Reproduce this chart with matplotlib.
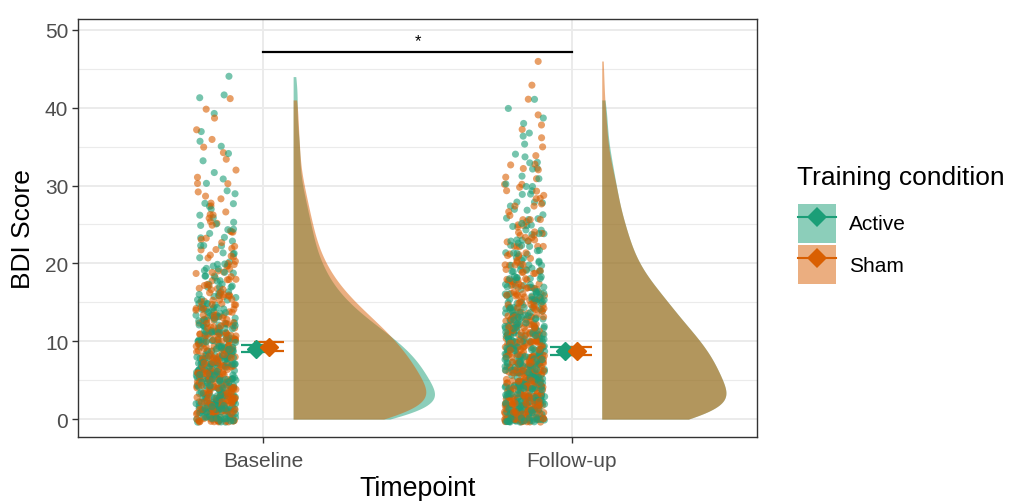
import numpy as np
import matplotlib
matplotlib.use("Agg")
import matplotlib.pyplot as plt
from matplotlib.patches import Patch
from matplotlib.lines import Line2D

plt.rcParams['font.family'] = ['Liberation Sans', 'DejaVu Sans']

# --- data: counts of participants per BDI score (0..46) ---
timepoints = ["Baseline", "Follow-up"]
conditions = ["Active", "Sham"]
colours = {"Active": "#1B9E77", "Sham": "#D95F02"}

scores = np.arange(47)

baseline_active = [25, 25, 24, 21, 20, 20, 20, 19, 18, 17,
                   16, 14, 12, 11, 9, 8, 7, 6, 5, 5,
                   4, 4, 3, 3, 3, 3, 2, 2, 2, 2,
                   1, 1, 1, 1, 1, 1, 1, 1, 0, 1,
                   0, 1, 1, 0, 1, 0, 0]
baseline_sham = [24, 24, 23, 20, 19, 19, 19, 18, 17, 16,
                 16, 14, 13, 12, 10, 9, 8, 7, 6, 5,
                 5, 4, 4, 3, 3, 3, 3, 2, 2, 2,
                 2, 1, 1, 1, 1, 1, 1, 1, 0, 1,
                 1, 1, 0, 0, 0, 0, 0]
followup_active = [30, 27, 25, 22, 22, 22, 21, 21, 20, 19,
                   18, 17, 15, 14, 13, 12, 11, 10, 8, 7,
                   7, 6, 5, 5, 5, 4, 4, 3, 3, 3,
                   3, 2, 2, 2, 2, 1, 1, 1, 1, 1,
                   1, 1, 0, 0, 0, 0, 0]
followup_sham = [30, 27, 25, 22, 22, 22, 21, 21, 20, 19,
                 18, 17, 15, 14, 13, 12, 11, 10, 8, 7,
                 7, 6, 5, 5, 5, 4, 4, 3, 3, 3,
                 3, 2, 2, 2, 1, 1, 1, 1, 1, 1,
                 0, 1, 0, 1, 0, 0, 1]

counts = {("Baseline", "Active"): baseline_active,
          ("Baseline", "Sham"): baseline_sham,
          ("Follow-up", "Active"): followup_active,
          ("Follow-up", "Sham"): followup_sham}

# group means and standard errors
mean_active = [9.06, 8.73]
mean_sham = [9.32, 8.75]
se_active = [0.49, 0.47]
se_sham = [0.54, 0.55]

sig_label = "*"


def nrd0(x):
    """bandwidth like R's bw.nrd0"""
    sd = np.std(x, ddof=1)
    iqr = np.subtract(*np.percentile(x, [75, 25]))
    lo = min(sd, iqr / 1.34)
    return 0.9 * lo * len(x) ** (-0.2)


def kde(x, grid):
    bw = nrd0(x)
    z = (grid[:, None] - x[None, :]) / bw
    return np.exp(-0.5 * z ** 2).sum(axis=1) / (len(x) * bw * np.sqrt(2 * np.pi))


def hash01(i, seed):
    # deterministic scatter for jitter positions
    v = np.sin(i * 12.9898 + seed * 78.233) * 43758.5453
    return v - np.floor(v)


fig = plt.figure(figsize=(10.12, 5.02), dpi=100)
ax = fig.add_axes([0.0771, 0.1275, 0.6709, 0.8327])

# densities first so the global max can scale them (scale = "area")
dens = {}
for key, c in counts.items():
    vals = np.repeat(scores, c).astype(float)
    grid = np.linspace(vals.min(), vals.max(), 512)
    dens[key] = (grid, kde(vals, grid))
dmax = max(d.max() for g, d in dens.values())
max_width = 0.458

for t_i, tp in enumerate(timepoints):
    x0 = t_i + 1
    # flat violins (Active first, Sham on top)
    for cond in conditions:
        grid, d = dens[(tp, cond)]
        left = x0 + 0.097
        ax.fill_betweenx(grid, left, left + d / dmax * max_width,
                         color=colours[cond], alpha=0.5, lw=0, zorder=2)

    # jittered raw points, both conditions mixed in draw order
    xs, ys, cs = [], [], []
    for c_i, cond in enumerate(conditions):
        vals = np.repeat(scores, counts[(tp, cond)]).astype(float)
        idx = np.arange(len(vals))
        seed = t_i * 2 + c_i + 1
        jx = (hash01(idx, seed) - 0.5) * 0.13
        jy = (hash01(idx, seed + 10) - 0.5) * 0.8
        xs.append(x0 - 0.153 + jx)
        ys.append(vals + jy)
        cs += [colours[cond]] * len(vals)
    xs = np.concatenate(xs)
    ys = np.concatenate(ys)
    cs = np.array(cs)
    order = np.argsort(hash01(np.arange(len(xs)), 30 + t_i))
    ax.scatter(xs[order], ys[order], s=26, c=cs[order], alpha=0.6,
               linewidths=0, zorder=3)

# means with standard error bars
# (no mew here: errorbar would apply it to the caps too)
xpos = np.arange(1, len(timepoints) + 1)
for cond, m, se, dx in [("Active", mean_active, se_active, -0.022),
                        ("Sham", mean_sham, se_sham, 0.018)]:
    ax.errorbar(xpos + dx, m, yerr=se, fmt='D', color=colours[cond],
                ms=9.6, elinewidth=1.5, capsize=11, capthick=1.6,
                zorder=4)

# significance bar
ax.plot([1, 2], [47.1, 47.1], color='black', lw=1.6, zorder=4)
ax.text(1.5, 47.6, sig_label, ha='center', va='bottom', fontsize=12)

ax.set_xlim(0.4, 2.6)
ax.set_ylim(-2.3, 51.4)
ax.set_xticks(xpos)
ax.set_xticklabels(timepoints)
ax.set_yticks(np.arange(0, 51, 10))
ax.set_yticks(np.arange(5, 51, 10), minor=True)
ax.grid(True, which='major', color='#EBEBEB', lw=1.4, zorder=0)
ax.grid(True, which='minor', axis='y', color='#EBEBEB', lw=0.8, zorder=0)
ax.set_axisbelow(True)
ax.tick_params(which='major', length=4, width=1, color='#333333',
               labelsize=15, labelcolor='#4D4D4D')
ax.tick_params(axis='x', pad=6)
ax.tick_params(axis='y', pad=3)
ax.tick_params(which='minor', length=0)
for sp in ax.spines.values():
    sp.set_color('#333333')
    sp.set_linewidth(1)

ax.set_xlabel("Timepoint", fontsize=19.3, labelpad=3.5)
ax.set_ylabel("BDI Score", fontsize=19, labelpad=7)

# legend: title as plain text, keys below it
fig.text(797 / 1012, 1 - 178 / 502, "Training condition", fontsize=19,
         ha='left', va='center')
handles = []
for cond in conditions:
    handles.append((Patch(facecolor=colours[cond], alpha=0.5, lw=0),
                    Line2D([], [], color=colours[cond], lw=1.5, marker='D',
                           ms=10.5, mew=0)))
leg = fig.legend(handles, conditions, loc='upper left',
                 bbox_to_anchor=(781 / 1012, 1 - 188 / 502), frameon=False,
                 fontsize=15, handlelength=1.85, handleheight=2.5,
                 labelspacing=0.12, handletextpad=0.63, borderpad=0.3)

fig.savefig("out.png", dpi=100)
